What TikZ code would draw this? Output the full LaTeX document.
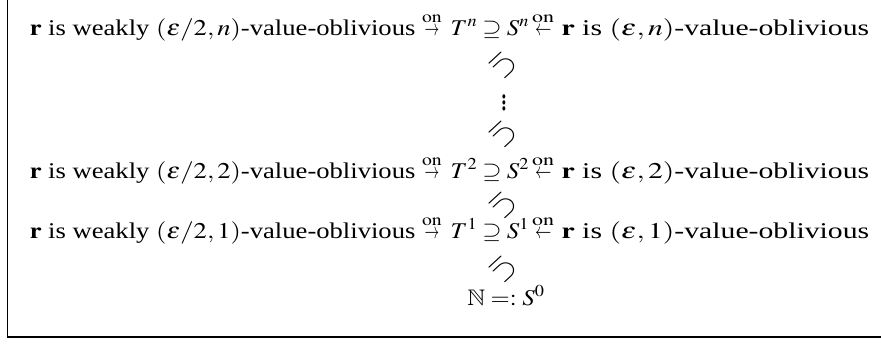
\documentclass[tikz,border=0pt]{standalone}
\usepackage{mathptmx}
\usepackage{amssymb}
\usepackage{graphicx}
\usepackage{fontspec}
\setmainfont{Liberation Serif}
\newcommand\hs[1]{\scalebox{1.1}[1]{#1}}
\newcommand\vsub{\scalebox{1.35}[1.25]{\rotatebox[origin=c]{-135}{$\subseteq$}}}
\newcommand\shortr{\mathrel{\hbox{\scalebox{0.55}[1]{$\rightarrow$}}}}
\newcommand\shortl{\mathrel{\hbox{\scalebox{0.55}[1]{$\leftarrow$}}}}
\newcommand\onr{\stackrel{\mathrm{on}}{\shortr}}
\newcommand\onl{\stackrel{\mathrm{on}}{\shortl}}
\newcommand\lefttext[1]{\resizebox{412pt}{\height}{$\mathbf{r}$ is weakly $(\varepsilon/2,#1)$-value-oblivious $\onr$}}
\newcommand\righttext[1]{\resizebox{337pt}{\height}{$\onl$ $\mathbf{r}$ is $(\varepsilon,#1)$-value-oblivious}}
\tikzset{
  txt/.style={inner sep=0pt, font=\fontsize{22.5}{27}\selectfont},
  lt/.style={txt, anchor=base east},
  rt/.style={txt, anchor=base west},
  mid/.style={txt, anchor=base},
  vv/.style={txt, anchor=center},
  frame/.style={line width=1.5pt}
}
\begin{document}
\begin{tikzpicture}[x=1pt,y=1pt]
\useasboundingbox (0,0) rectangle (881,-343);
% row n
\node[lt] (L1) at (442,-35) {\lefttext{n}};
\node[mid] (T1) at (464,-35) {\hs{$T^n$}};
\node[mid] (P1) at (492,-35) {\hs{$\supseteq$}};
\node[mid] (S1) at (518,-35) {\hs{$S^n$}};
\node[rt] (R1) at (532,-35) {\righttext{n}};
\node[vv] (V1) at (504,-65) {\vsub};
\node[vv] (D) at (504,-98) {\scalebox{1.1}[1.6]{$\vdots$}};
\node[vv] (V2) at (504,-134) {\vsub};
% row 2
\node[lt] (L2) at (442,-178) {\lefttext{2}};
\node[mid] (T2) at (464,-178) {\hs{$T^2$}};
\node[mid] (P2) at (492,-178) {\hs{$\supseteq$}};
\node[mid] (S2) at (518,-178) {\hs{$S^2$}};
\node[rt] (R2) at (532,-178) {\righttext{2}};
\node[vv] (V3) at (504,-205) {\vsub};
% row 1
\node[lt] (L3) at (442,-238) {\lefttext{1}};
\node[mid] (T3) at (464,-238) {\hs{$T^1$}};
\node[mid] (P3) at (492,-238) {\hs{$\supseteq$}};
\node[mid] (S3) at (518,-238) {\hs{$S^1$}};
\node[rt] (R3) at (532,-238) {\righttext{1}};
\node[vv] (V4) at (504,-269) {\vsub};
\node[mid] (N) at (506,-305) {\hs{$\mathbb{N} \mathrel{=:} S^0$}};
% frame
\draw[frame] (7.5,0) -- (7.5,-337) -- (881,-337);
\end{tikzpicture}
\end{document}
